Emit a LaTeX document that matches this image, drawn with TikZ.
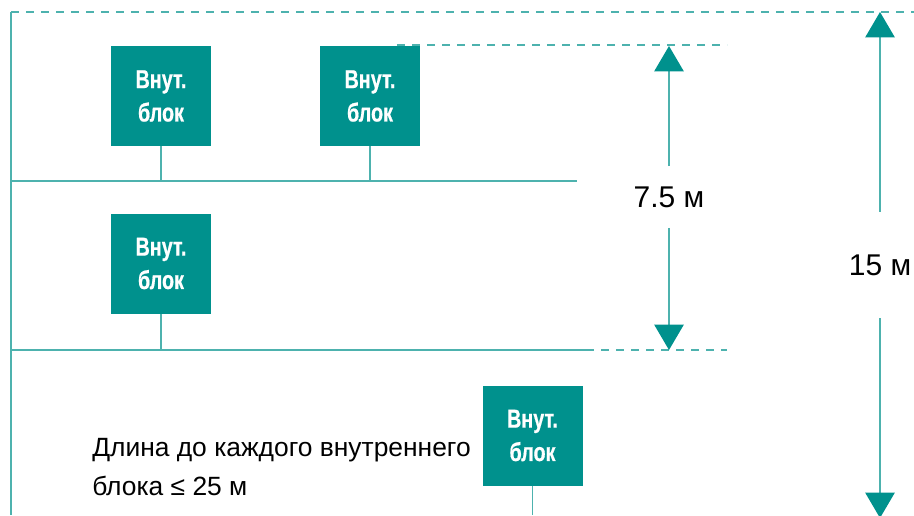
\documentclass[tikz,border=0pt]{standalone}
\usepackage{fontspec}
\setmainfont{Liberation Sans}
\newfontfamily\boxfont[FakeStretch=0.76,FakeBold=0.6]{Liberation Sans Bold}
\usepackage{tikz}
\usetikzlibrary{arrows.meta,positioning,calc}
\definecolor{tealbox}{HTML}{00918D}
\definecolor{teal line}{HTML}{4DB2AE}

\begin{document}
\begin{tikzpicture}[x=0.75pt,y=-0.75pt,>={Triangle[width=22pt,length=19pt,fill=tealbox,color=tealbox]}]
  \tikzstyle{unit}=[fill=tealbox,text=white,minimum size=75pt,inner sep=0pt,align=center,font=\boxfont\fontsize{19.5}{25}\selectfont]
  \tikzstyle{pipe}=[teal line,line width=1.1pt]
  \tikzstyle{guide}=[teal line,line width=1.1pt,dash pattern=on 6pt off 5.25pt]
  \tikzstyle{dim}=[teal line,line width=1.1pt,->]
  \tikzstyle{dimlabel}=[inner sep=0pt,font=\fontsize{22.5}{27}\selectfont]
  \useasboundingbox (0,0) rectangle (914,515);

  \coordinate (corner) at (11,12);
  \coordinate (bottom) at (11,515);
  \coordinate (busA) at (11,181);
  \coordinate (busB) at (11,350);
  \coordinate (endA) at (577,181);
  \coordinate (endB) at (586,350);

  % outline and reference lines
  \draw[pipe] (corner) -- (bottom);
  \draw[guide] (corner) -- (914,12);
  \draw[guide] (397,45) -- (727,45);
  \draw[pipe] (busA) -- (endA);
  \draw[pipe] (busB) -- (endB);
  \draw[guide] (endB) -- (727,350);

  \node[unit] (in1) at (161,96) {Внут.\\блок};
  \node[unit] (in2) at (370,96) {Внут.\\блок};
  \node[unit] (in3) at (161,263.5) {Внут.\\блок};
  \node[unit] (in4) at (532.5,435.5) {Внут.\\блок};
  \draw[pipe] (in1.south) -- (in1.south |- busA);
  \draw[pipe] (in2.south) -- (in2.south |- busA);
  \draw[pipe] (in3.south) -- (in3.south |- busB);
  \draw[pipe] (in4.south) -- (in4.south |- bottom);

  \node[anchor=west,align=left,inner sep=0pt,font=\fontsize{19.8}{29.5}\selectfont] (note) at (92,467)
    {Длина до каждого внутреннего\\блока ≤ 25 м};

  % dimensions
  \coordinate (t75) at (669,46);
  \coordinate (b75) at (669,350);
  \node[dimlabel,minimum height=45.75pt] (d75) at (669,197) {7.5 м};
  \draw[dim] (d75.north) -- (t75);
  \draw[dim] (d75.south) -- (b75);

  \coordinate (t15) at (880,12);
  \coordinate (b15) at (880,518);
  \node[dimlabel,minimum height=79.5pt] (d15) at (880,265) {15 м};
  \draw[dim] (d15.north) -- (t15);
  \draw[dim] (d15.south) -- (b15);
\end{tikzpicture}
\end{document}
